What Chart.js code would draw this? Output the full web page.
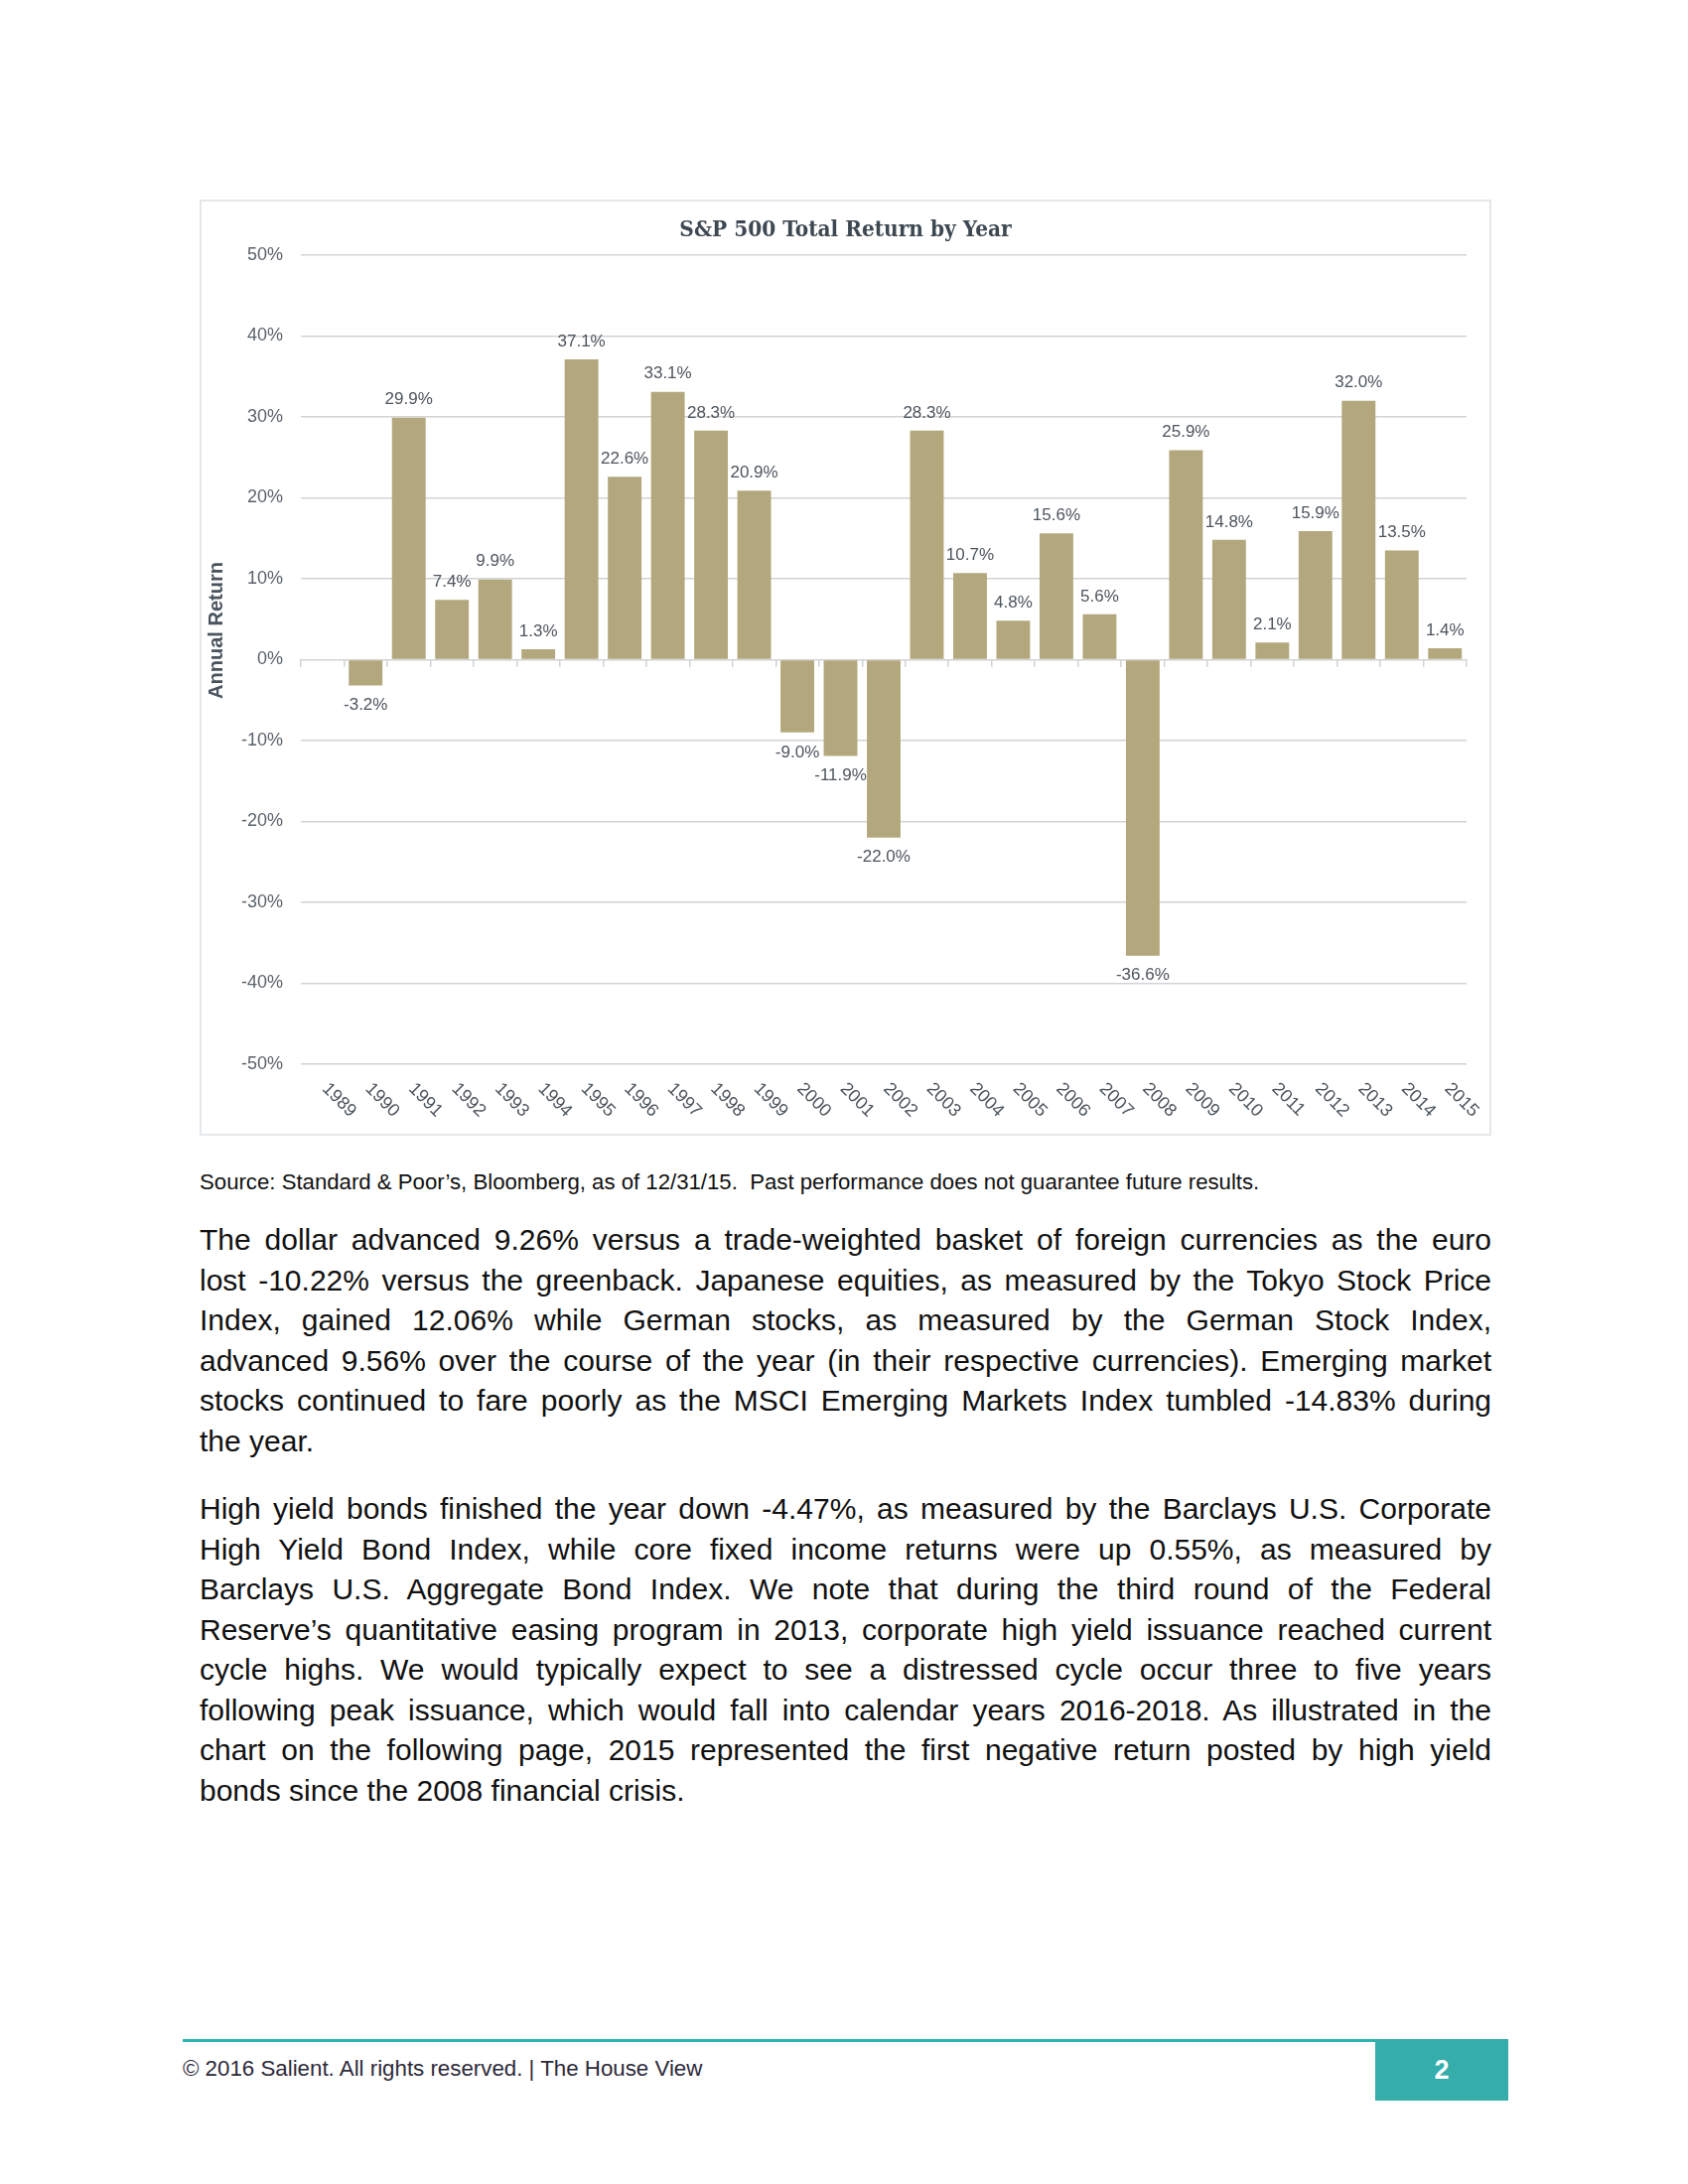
<!DOCTYPE html>
<html><head><meta charset="utf-8">
<script src="https://cdn.jsdelivr.net/npm/chart.js@4.4.0/dist/chart.umd.min.js"></script>
<style>
html,body{margin:0;padding:0;background:#fff;}
body{width:1700px;height:2200px;position:relative;font-family:'Liberation Sans',Arial,Helvetica,sans-serif;overflow:hidden;}
#box{position:absolute;left:201px;top:201px;width:1301px;height:943px;box-sizing:border-box;border:2px solid #e4e8eb;}
#c{position:absolute;left:201px;top:201px;}
.src{position:absolute;left:201px;top:1177px;font-size:22.2px;line-height:28px;color:#111;white-space:pre;}
.para{position:absolute;left:201px;width:1301px;font-size:30px;color:#111;}
.para div{height:40.5px;line-height:40.5px;text-align:justify;text-align-last:justify;overflow:visible;}
.para div.last{text-align-last:left;}
#fline{position:absolute;left:184px;top:2054px;width:1201px;height:3px;background:#2bb3b0;}
#fbox{position:absolute;left:1385px;top:2054px;width:134px;height:62px;background:#35adab;color:#fff;font-weight:bold;font-size:27px;line-height:62px;text-align:center;}
#ftext{position:absolute;left:184px;top:2070px;font-size:22.3px;line-height:28px;color:#2d2a3a;white-space:pre;}
</style>
</head><body>
<div id="box"></div>
<canvas id="c" width="1301" height="943"></canvas>
<div class="src">Source: Standard &amp; Poor’s, Bloomberg, as of 12/31/15.  Past performance does not guarantee future results.</div>
<div class="para" style="top:1229px">
<div>The dollar advanced 9.26% versus a trade-weighted basket of foreign currencies as the euro</div>
<div>lost -10.22% versus the greenback. Japanese equities, as measured by the Tokyo Stock Price</div>
<div>Index, gained 12.06% while German stocks, as measured by the German Stock Index,</div>
<div>advanced 9.56% over the course of the year (in their respective currencies). Emerging market</div>
<div>stocks continued to fare poorly as the MSCI Emerging Markets Index tumbled -14.83% during</div>
<div class="last">the year.</div>
</div>
<div class="para" style="top:1500px">
<div>High yield bonds finished the year down -4.47%, as measured by the Barclays U.S. Corporate</div>
<div>High Yield Bond Index, while core fixed income returns were up 0.55%, as measured by</div>
<div>Barclays U.S. Aggregate Bond Index. We note that during the third round of the Federal</div>
<div>Reserve’s quantitative easing program in 2013, corporate high yield issuance reached current</div>
<div>cycle highs. We would typically expect to see a distressed cycle occur three to five years</div>
<div>following peak issuance, which would fall into calendar years 2016-2018. As illustrated in the</div>
<div>chart on the following page, 2015 represented the first negative return posted by high yield</div>
<div class="last">bonds since the 2008 financial crisis.</div>
</div>
<div id="fline"></div>
<div id="fbox">2</div>
<div id="ftext">© 2016 Salient. All rights reserved. | The House View</div>
<script>
const years = ['1989','1990','1991','1992','1993','1994','1995','1996','1997','1998','1999','2000','2001','2002','2003','2004','2005','2006','2007','2008','2009','2010','2011','2012','2013','2014','2015'];
const returns = [null,-3.2,29.9,7.4,9.9,1.3,37.1,22.6,33.1,28.3,20.9,-9.0,-11.9,-22.0,28.3,10.7,4.8,15.6,5.6,-36.6,25.9,14.8,2.1,15.9,32.0,13.5,1.4];
const yTicks = [-50,-40,-30,-20,-10,0,10,20,30,40,50];
const chartTitle = 'S&P 500 Total Return by Year';
const yTitle = 'Annual Return';

const SANS = "'Liberation Sans', Arial, Helvetica, sans-serif";

const valueLabels = {
  id: 'valueLabels',
  afterDatasetsDraw(chart) {
    const ctx = chart.ctx;
    const meta = chart.getDatasetMeta(0);
    ctx.save();
    ctx.font = "17px " + SANS;
    ctx.fillStyle = '#4d555d';
    ctx.textAlign = 'center';
    ctx.textBaseline = 'middle';
    meta.data.forEach((bar, i) => {
      const v = returns[i];
      if (v === null || v === undefined) return;
      const y = v >= 0 ? bar.y - 18 : bar.y + 20;
      ctx.fillText(v.toFixed(1) + '%', bar.x, y);
    });
    ctx.restore();
  }
};

const xLabels = {
  id: 'xLabels',
  afterDraw(chart) {
    const ctx = chart.ctx;
    const xs = chart.scales.x;
    const bottom = chart.chartArea.bottom;
    ctx.save();
    ctx.font = "18px " + SANS;
    ctx.fillStyle = '#4d555d';
    years.forEach((lab, i) => {
      const x = xs.getPixelForValue(i);
      ctx.save();
      ctx.translate(x + 2.5, bottom + 22);
      ctx.rotate(Math.PI / 4);
      ctx.textAlign = 'left';
      ctx.textBaseline = 'middle';
      ctx.fillText(lab, 0, 0);
      ctx.restore();
    });
    // y-axis title, placed as in the reference
    ctx.save();
    ctx.translate(17, 434);
    ctx.rotate(-Math.PI / 2);
    ctx.font = "bold 20px " + SANS;
    ctx.fillStyle = '#4a545e';
    ctx.textAlign = 'center';
    ctx.textBaseline = 'middle';
    ctx.fillText(yTitle, 0, 0);
    ctx.restore();
    ctx.restore();
  }
};

new Chart(document.getElementById('c'), {
  type: 'bar',
  data: {
    labels: years,
    datasets: [{
      data: returns,
      backgroundColor: '#b3a87d',
      borderWidth: 0,
      categoryPercentage: 1.0,
      barPercentage: 0.78
    }]
  },
  options: {
    responsive: false,
    devicePixelRatio: 1,
    animation: false,
    layout: { padding: { top: 0, left: 0, right: 0, bottom: 0 } },
    plugins: {
      legend: { display: false },
      tooltip: { enabled: false },
      title: {
        display: true,
        text: chartTitle,
        color: '#3d4852',
        font: { family: "'DejaVu Serif Condensed', 'DejaVu Serif', serif", size: 22.4, weight: 'bold', lineHeight: 1.2 },
        padding: { top: 18, bottom: 11.1 }
      }
    },
    scales: {
      x: {
        type: 'category',
        position: 'bottom',
        grid: { display: false },
        border: { display: false },
        ticks: { display: false },
        afterFit(s) { s.height = 72; }
      },
      x2: {
        type: 'category',
        axis: 'x',
        position: { y: 0 },
        offset: true,
        grid: { display: true, offset: true, drawOnChartArea: false, drawTicks: true, tickLength: 8, color: '#d3d3d3', lineWidth: 1.5 },
        border: { display: false },
        ticks: { display: false }
      },
      y: {
        min: -50,
        max: 50,
        afterBuildTicks(s) { s.ticks = yTicks.map(v => ({ value: v })); },
        grid: { color: '#d3d3d3', lineWidth: 1.5, drawTicks: false },
        border: { display: false },
        ticks: {
          padding: 18,
          color: '#5b636b',
          font: { family: SANS, size: 18 },
          callback: v => v + '%'
        },
        title: { display: false },
        afterFit(s) { s.width = 102; }
      },
      yRight: {
        type: 'linear',
        axis: 'y',
        position: 'right',
        grid: { display: false },
        border: { display: false },
        ticks: { display: false },
        afterFit(s) { s.width = 25; }
      }
    }
  },
  plugins: [valueLabels, xLabels]
});
</script>
</body></html>
